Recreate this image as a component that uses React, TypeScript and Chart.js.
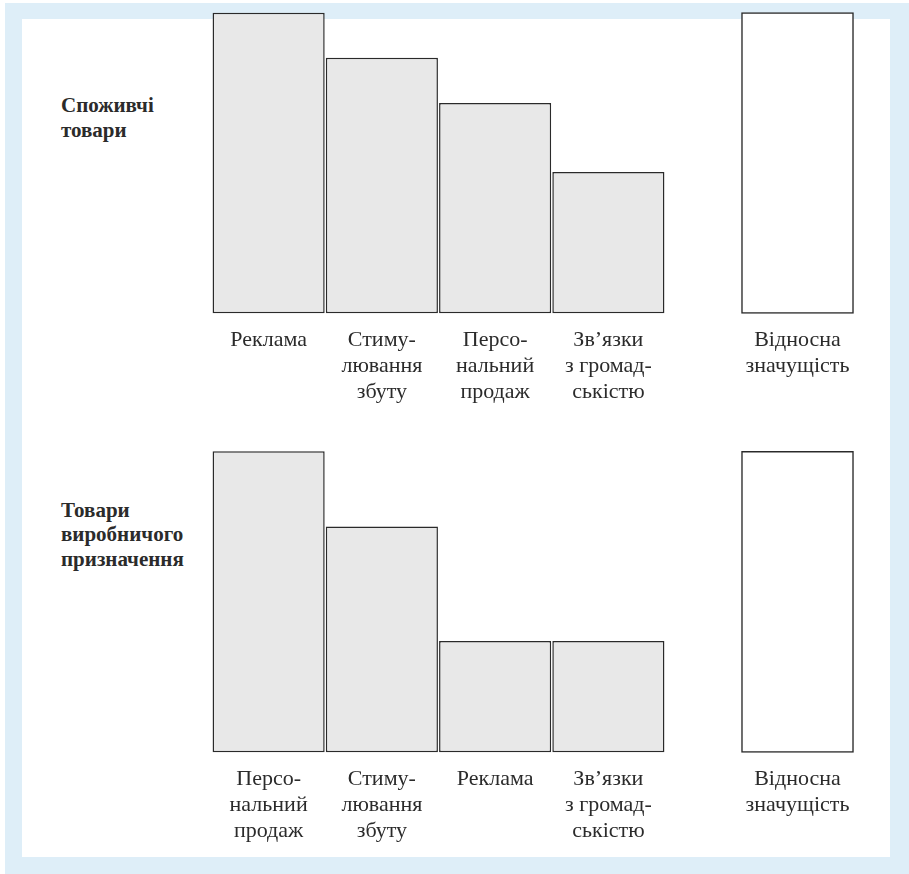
import React, { useEffect, useRef } from "react";
import { Chart, registerables } from "chart.js";

Chart.register(...registerables);

// ---- Data ----
const consumerCategories: string[][] = [
  ["Реклама"],
  ["Стиму-", "лювання", "збуту"],
  ["Персо-", "нальний", "продаж"],
  ["Зв’язки", "з громад-", "ськістю"],
];
const consumerValues: number[] = [100, 85, 70, 47];

const industrialCategories: string[][] = [
  ["Персо-", "нальний", "продаж"],
  ["Стиму-", "лювання", "збуту"],
  ["Реклама"],
  ["Зв’язки", "з громад-", "ськістю"],
];
const industrialValues: number[] = [100, 75, 37, 37];

const relativeCategories: string[][] = [["Відносна", "значущість"]];
const relativeValues: number[] = [100];

const consumerTitle: string[] = ["Споживчі", "товари"];
const industrialTitle: string[] = ["Товари", "виробничого", "призначення"];

const TEXT = "#2b2b2b";
const FONT = "'Liberation Serif', 'Times New Roman', Times, serif";

type BarProps = {
  labels: string[][];
  values: number[];
  fill: string;
  left: number;
  top: number;
  width: number;
  height: number;
  padTop: number;
  thickness?: number;
};

function BarPanel({ labels, values, fill, left, top, width, height, padTop, thickness }: BarProps) {
  const ref = useRef<HTMLCanvasElement | null>(null);
  useEffect(() => {
    if (!ref.current) return;
    const ds: any = {
      data: values,
      backgroundColor: fill,
      borderColor: "#2a2a2a",
      borderWidth: 1.5,
      borderSkipped: false,
      barPercentage: 0.99,
      categoryPercentage: 1,
      clip: false,
    };
    if (thickness) ds.barThickness = thickness;
    const chart = new Chart(ref.current, {
      type: "bar",
      data: {
        labels: labels as any,
        datasets: [ds],
      },
      options: {
        responsive: false,
        maintainAspectRatio: false,
        animation: false,
        layout: { padding: { left: 12, right: 12, top: padTop, bottom: 12.7 } },
        plugins: { legend: { display: false }, tooltip: { enabled: false }, title: { display: false } },
        scales: {
          x: {
            type: "category",
            offset: true,
            grid: { display: false, drawTicks: false },
            border: { display: false },
            ticks: {
              color: TEXT,
              padding: 14,
              maxRotation: 0,
              autoSkip: false,
              font: { family: FONT, size: 22, lineHeight: 26 / 22 },
            },
            afterFit: (scale: any) => {
              scale.height = 104;
            },
          },
          y: {
            display: false,
            min: 0,
            max: 100,
          },
        },
      },
    });
    return () => chart.destroy();
  }, []);
  return (
    <canvas
      ref={ref}
      width={width}
      height={height}
      style={{ position: "absolute", left, top, width, height }}
    />
  );
}

function Title({ lines, top, lineHeight }: { lines: string[]; top: number; lineHeight: number }) {
  return (
    <div
      style={{
        position: "absolute",
        left: 61,
        top,
        fontFamily: FONT,
        fontWeight: "bold",
        fontSize: 21,
        lineHeight: lineHeight + "px",
        color: TEXT,
        whiteSpace: "nowrap",
      }}
    >
      {lines.map((l, i) => (
        <div key={i}>{l}</div>
      ))}
    </div>
  );
}

export default function App() {
  return (
    <div style={{ position: "absolute", left: 0, top: 0, width: 909, height: 874, background: "#ffffff", overflow: "hidden" }}>
      <div style={{ position: "absolute", left: 5, top: 3, width: 904, height: 871, background: "#deeef8" }} />
      <div style={{ position: "absolute", left: 22, top: 19, width: 868, height: 838, background: "#ffffff" }} />

      <Title lines={consumerTitle} top={92.5} lineHeight={25} />
      <Title lines={industrialTitle} top={497.5} lineHeight={24.5} />

      <BarPanel labels={consumerCategories} values={consumerValues} fill="#e8e8e8" left={200} top={0} width={477} height={430} padTop={12.7} />
      <BarPanel labels={relativeCategories} values={relativeValues} fill="#ffffff" left={729} top={0} width={137} height={430} padTop={12.7} thickness={112} />

      <BarPanel labels={industrialCategories} values={industrialValues} fill="#e8e8e8" left={200} top={439} width={477} height={430} padTop={12.3} />
      <BarPanel labels={relativeCategories} values={relativeValues} fill="#ffffff" left={729} top={439} width={137} height={430} padTop={12.3} thickness={112} />
    </div>
  );
}
